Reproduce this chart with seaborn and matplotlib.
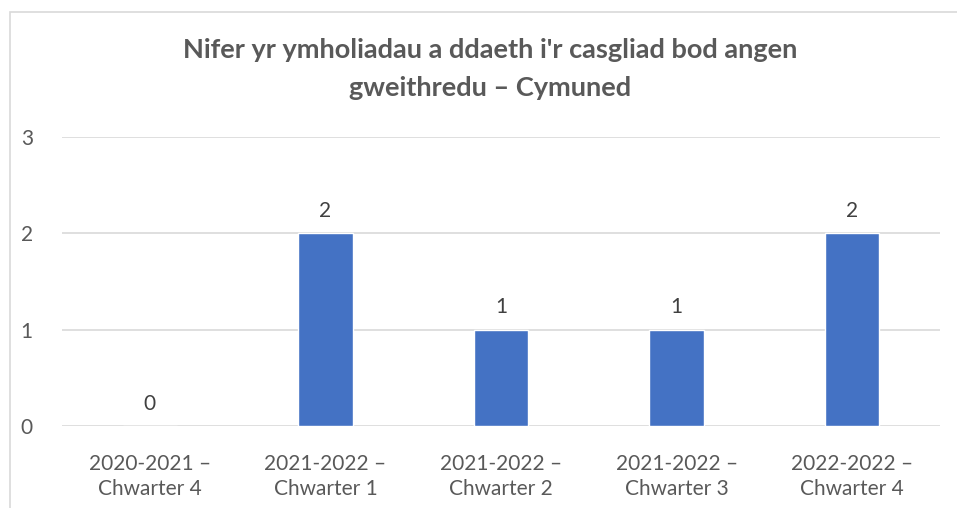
import matplotlib
matplotlib.use("Agg")
import matplotlib.pyplot as plt
import seaborn as sns
import pandas as pd
from matplotlib.patches import Rectangle

categories = [
    "2020-2021 –\nChwarter 4",
    "2021-2022 –\nChwarter 1",
    "2021-2022 –\nChwarter 2",
    "2021-2022 –\nChwarter 3",
    "2022-2022 –\nChwarter 4",
]
values = [0, 2, 1, 1, 2]
y_ticks = [0, 1, 2, 3]
title = "Nifer yr ymholiadau a ddaeth i'r casgliad bod angen\ngweithredu – Cymuned"

sns.set_theme(style="white")
plt.rcParams["font.family"] = ["Lato", "DejaVu Sans"]

text_color = "#595959"
grid_color = "#D9D9D9"
bar_color = "#4472C4"

df = pd.DataFrame({"category": categories, "value": values})

fig = plt.figure(figsize=(9.57, 5.08), dpi=100)
ax = fig.add_axes([62 / 957, 1 - 426 / 508, (940 - 62) / 957, (426 - 137) / 508])

sns.barplot(data=df, x="category", y="value", color=bar_color, width=0.31,
            saturation=1, ax=ax)

ax.set_ylim(0, 3)
ax.set_yticks(y_ticks)
ax.set_xlim(-0.5, len(categories) - 0.5)
for t in y_ticks:
    ax.axhline(t, color=grid_color, lw=1.2, zorder=0)

for i, v in enumerate(values):
    ax.annotate(str(v), (i, v), xytext=(0, 9), textcoords="offset points",
                ha="center", va="bottom", fontsize=15, color="#404040")

ax.set_xlabel("")
ax.set_ylabel("")
for s in ax.spines.values():
    s.set_visible(False)
ax.tick_params(axis="both", length=0, labelsize=15, colors=text_color)
ax.tick_params(axis="x", pad=20)
ax.tick_params(axis="y", pad=21)
for lab in ax.get_xticklabels():
    lab.set_linespacing(1.35)

fig.text(490 / 957, 1 - 69 / 508, title, ha="center", va="center",
         fontsize=19.5, fontweight="bold", color=text_color, linespacing=1.65)

# chart frame
fig.patches.append(Rectangle((10 / 957, -0.1), 1.2, 1 - 12 / 508 + 0.1,
                             transform=fig.transFigure, fill=False,
                             edgecolor=grid_color, lw=1.2))

fig.savefig("out.png", dpi=100, facecolor="white")
